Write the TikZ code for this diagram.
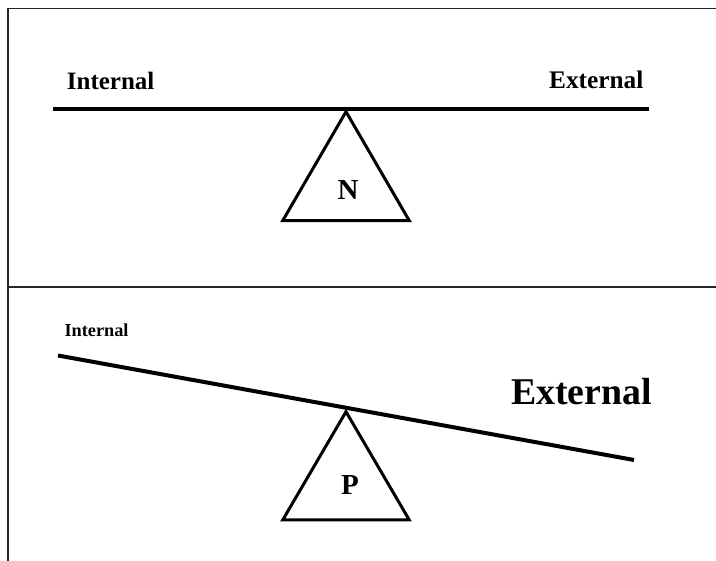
\documentclass[tikz,border=0pt]{standalone}
\usepackage{fontspec}
\setmainfont{Liberation Serif}
\begin{document}
\begin{tikzpicture}[x=1pt,y=-1pt,
  frame/.style={draw=black!85,line width=1.2pt},
  beam/.style={draw=black,line width=4pt},
  fulcrum/.style={draw=black,line width=3pt,line join=miter},
  lbl/.style={inner sep=0pt,anchor=base west,font=\bfseries},
  sym/.style={inner sep=0pt,anchor=base,font=\bfseries\fontsize{29}{29}\selectfont}]
\useasboundingbox (0,0) rectangle (716,561);
% frame
\coordinate (tl) at (8,8.3);
\coordinate (tr) at (716,8.3);
\coordinate (bl) at (8,561);
\coordinate (ml) at (8,286.7);
\coordinate (mr) at (716,286.7);
\draw[frame] (tr) -- (tl) -- (bl);
\draw[frame,line width=2pt] (ml) -- (mr);
% top seesaw
\coordinate (b1l) at (53,109.3);
\coordinate (b1r) at (649,109.3);
\draw[beam] (b1l) -- (b1r);
\coordinate (n1) at (346,111.7);
\coordinate (n2) at (282.7,220.7);
\coordinate (n3) at (409.3,220.7);
\draw[fulcrum] (n1) -- (n2) -- (n3) -- cycle;
\node[sym] (N) at (348,200) {N};
\node[lbl,font=\bfseries\fontsize{25}{25}\selectfont] (int1) at (66.7,89.3) {Internal};
\node[lbl,font=\bfseries\fontsize{25.3}{25.3}\selectfont] (ext1) at (549,88.3) {External};
% bottom seesaw
\coordinate (b2l) at (58,355.5);
\coordinate (b2r) at (634,460);
\draw[beam] (b2l) -- (b2r);
\coordinate (p1) at (346,411.7);
\coordinate (p2) at (282.7,520);
\coordinate (p3) at (409.3,520);
\draw[fulcrum] (p1) -- (p2) -- (p3) -- cycle;
\node[sym] (P) at (350,495) {P};
\node[lbl,font=\bfseries\fontsize{18.3}{18.3}\selectfont] (int2) at (64.3,336.7) {Internal};
\node[lbl,font=\bfseries\fontsize{37.8}{37.8}\selectfont] (ext2) at (511,404.3) {External};
\end{tikzpicture}
\end{document}
